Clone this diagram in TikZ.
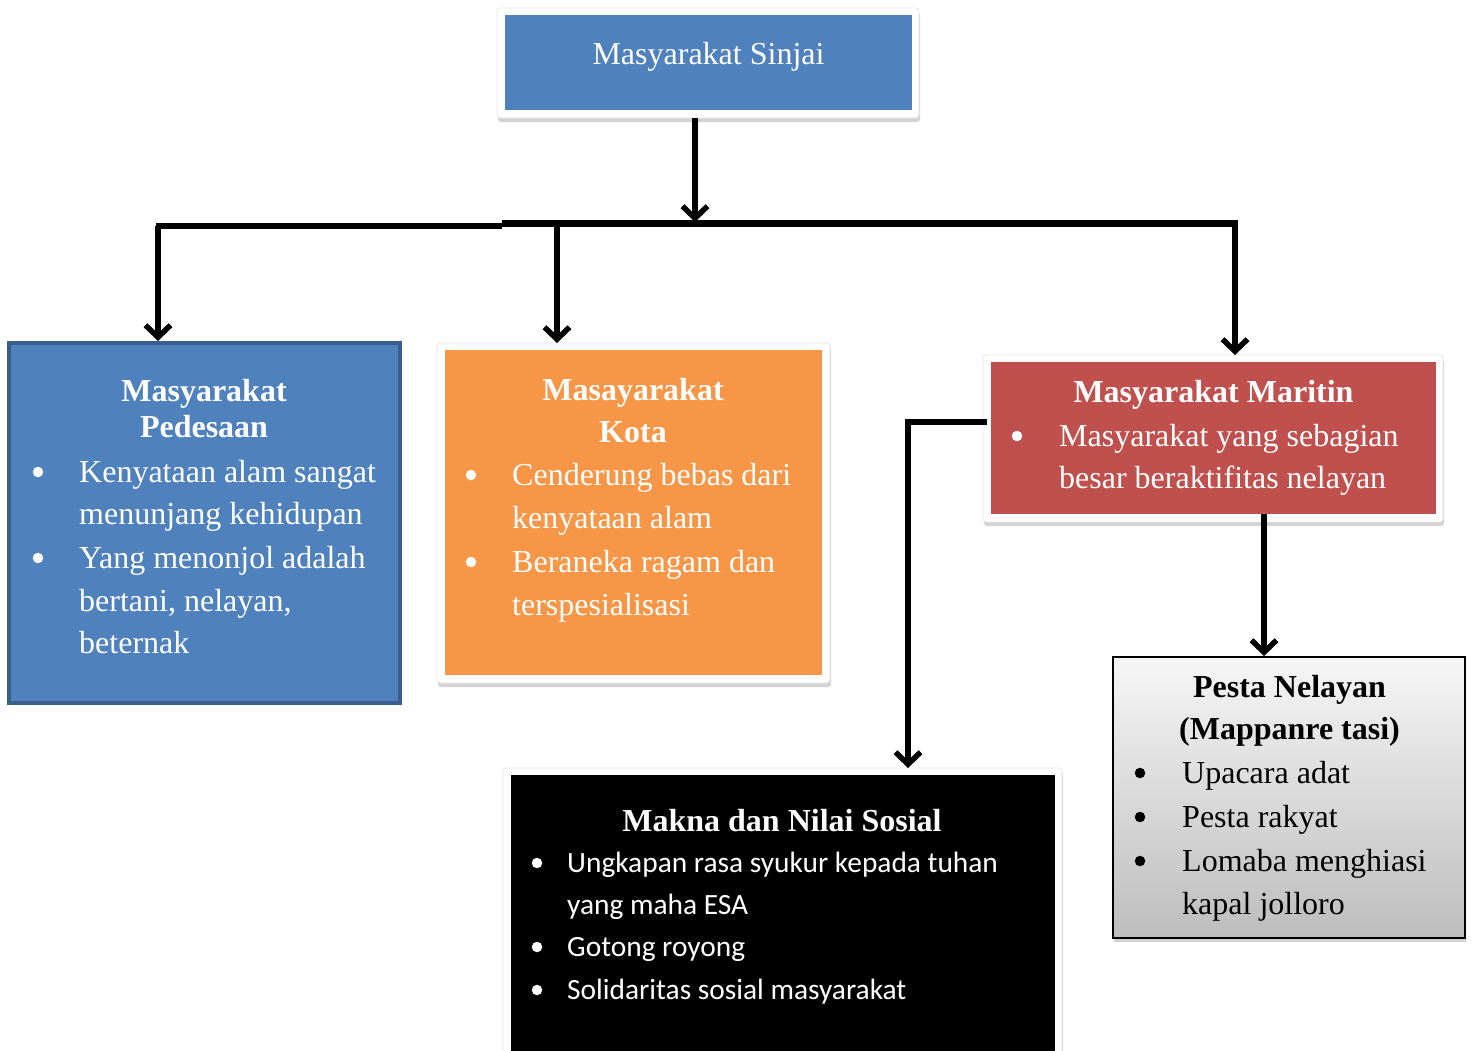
\documentclass[tikz,border=0pt]{standalone}
\usepackage{fontspec}
\setmainfont{Liberation Serif}
\newfontfamily\calfont{Carlito}
\usetikzlibrary{arrows.meta,shadows}
\definecolor{cblue}{HTML}{4F81BD}
\definecolor{cblueb}{HTML}{3A5F8E}
\definecolor{corange}{HTML}{F79646}
\definecolor{cred}{HTML}{C0504D}
\definecolor{gtop}{HTML}{F6F6F6}
\definecolor{gbot}{HTML}{BDBDBD}
\tikzset{
  frame/.style={fill=white, draw=black!10, line width=0.8pt, rounded corners=3pt, inner sep=0pt, outer sep=0pt,
    drop shadow={opacity=0.35, shadow xshift=1pt, shadow yshift=-4pt}},
  panel/.style={inner sep=0pt, outer sep=0pt, draw=none},
  ttl/.style={inner sep=0pt, anchor=base, font=\fontsize{32}{38}\selectfont\bfseries},
  ttlr/.style={inner sep=0pt, anchor=base, font=\fontsize{32}{38}\selectfont},
  body/.style={inner sep=0pt, anchor=base west, font=\fontsize{32}{38}\selectfont},
  bodys/.style={inner sep=0pt, anchor=base west, font=\fontsize{29.4}{35}\calfont},
  bul/.style={circle, inner sep=0pt, minimum size=10.5pt, yshift=10pt},
  bar/.style={line width=6.5pt},
  arr/.style={line width=5.5pt, -{Straight Barb[length=12pt,width=25pt]}},
}
\begin{document}
\begin{tikzpicture}[x=1pt,y=-1pt]
\useasboundingbox (0,0) rectangle (1472,1050);

% ---------- boxes ----------
% top
\node[frame, minimum width=422pt, minimum height=110pt] (top) at (708,63) {};
\node[panel, fill=cblue, minimum width=407pt, minimum height=95pt] (topin) at (708.5,62.5) {};
% pedesaan
\node[draw=cblueb, line width=4pt, fill=cblue, inner sep=0pt, minimum width=391pt, minimum height=360pt] (ped) at (204.5,523) {};
% kota
\node[frame, minimum width=393pt, minimum height=340pt] (kota) at (633.5,513) {};
\node[panel, fill=corange, minimum width=377pt, minimum height=325pt] (kotain) at (633.5,512.5) {};
% maritin
\node[frame, minimum width=460pt, minimum height=167pt] (mar) at (1213,438.5) {};
\node[panel, fill=cred, minimum width=445pt, minimum height=152pt] (marin) at (1213.5,438) {};
% pesta
\node[draw=black, line width=2pt, top color=gtop, bottom color=gbot, inner sep=0pt,
  minimum width=352pt, minimum height=281pt,
  drop shadow={opacity=0.35, shadow xshift=1pt, shadow yshift=-4pt}] (pes) at (1289,797.5) {};
% makna
\node[frame, minimum width=559pt, minimum height=292pt] (mak) at (782.5,914) {};
\node[panel, fill=black, minimum width=544pt, minimum height=285pt] (makin) at (783,917.5) {};

% ---------- texts ----------
\node[ttlr, text=white] (t-top) at (708.5,64) {Masyarakat Sinjai};

\node[ttl, text=white] (t-ped1) at (204,401) {Masyarakat};
\node[ttl, text=white] (t-ped2) at (204,437) {Pedesaan};
\node[bul, fill=white] (b-ped1) at (38,482) {};
\node[bul, fill=white] (b-ped2) at (38,568) {};
\foreach \t/\yy [count=\i] in {Kenyataan alam sangat/482, menunjang kehidupan/524,
   Yang menonjol adalah/568, {bertani, nelayan,}/611, beternak/653}
  \node[body, text=white] (l-ped\i) at (79,\yy) {\t};

\node[ttl, text=white] (t-kota1) at (633,400) {Masayarakat};
\node[ttl, text=white] (t-kota2) at (633,442) {Kota};
\node[bul, fill=white] (b-kota1) at (471,485) {};
\node[bul, fill=white] (b-kota2) at (471,572) {};
\foreach \t/\yy [count=\i] in {Cenderung bebas dari/485, kenyataan alam/528,
   Beraneka ragam dan/572, terspesialisasi/615}
  \node[body, text=white] (l-kota\i) at (512,\yy) {\t};

\node[ttl, text=white] (t-mar) at (1213.5,402) {Masyarakat Maritin};
\node[bul, fill=white] (b-mar1) at (1017,446) {};
\foreach \t/\yy [count=\i] in {Masyarakat yang sebagian/446, besar beraktifitas nelayan/488}
  \node[body, text=white] (l-mar\i) at (1059,\yy) {\t};

\node[ttl, text=black] (t-pes1) at (1289.5,697) {Pesta Nelayan};
\node[ttl, text=black] (t-pes2) at (1289.5,739) {(Mappanre tasi)};
\node[bul, fill=black] (b-pes1) at (1140,783) {};
\node[bul, fill=black] (b-pes2) at (1140,827) {};
\node[bul, fill=black] (b-pes3) at (1140,871) {};
\foreach \t/\yy [count=\i] in {Upacara adat/783, Pesta rakyat/827,
   Lomaba menghiasi/871, kapal jolloro/914}
  \node[body, text=black] (l-pes\i) at (1182,\yy) {\t};

\node[ttl, text=white] (t-mak) at (782,831) {Makna dan Nilai Sosial};
\node[bul, fill=white, yshift=-1pt] (b-mak1) at (537,872) {};
\node[bul, fill=white, yshift=-1pt] (b-mak2) at (537,956) {};
\node[bul, fill=white, yshift=-1pt] (b-mak3) at (537,999) {};
\foreach \t/\yy [count=\i] in {Ungkapan rasa syukur kepada tuhan/872, yang maha ESA/914,
   Gotong royong/956, Solidaritas sosial masyarakat/999}
  \node[bodys, text=white] (l-mak\i) at (567,\yy) {\t};

% ---------- connectors ----------
\coordinate (hl) at (158,226);
\coordinate (hm) at (502,226);
\coordinate (hm2) at (502,223.5);
\coordinate (hr) at (1235,223.5);
\coordinate (hk) at (557,224);
\coordinate (hc) at (695,222);
\coordinate (mk) at (908,422);
\coordinate (pp) at (1264,520);

\draw[arr] ([xshift=-13pt]top.south) -- (hc);
\draw[bar] ([xshift=-2.5pt]hl) -- (hm);
\draw[bar] (hm2) -- ([xshift=2.5pt]hr);
\draw[arr] (hl) -- (hl |- ped.north);
\draw[arr] (hk) -- (hk |- kota.north);
\draw[arr] (hr) -- (hr |- mar.north);
\draw[arr, line join=miter] ([xshift=4pt]mar.west |- mk) -- (mk) -- (mk |- mak.north);
\draw[arr] (pp |- marin.south) -- (pp |- pes.north);
\end{tikzpicture}
\end{document}
